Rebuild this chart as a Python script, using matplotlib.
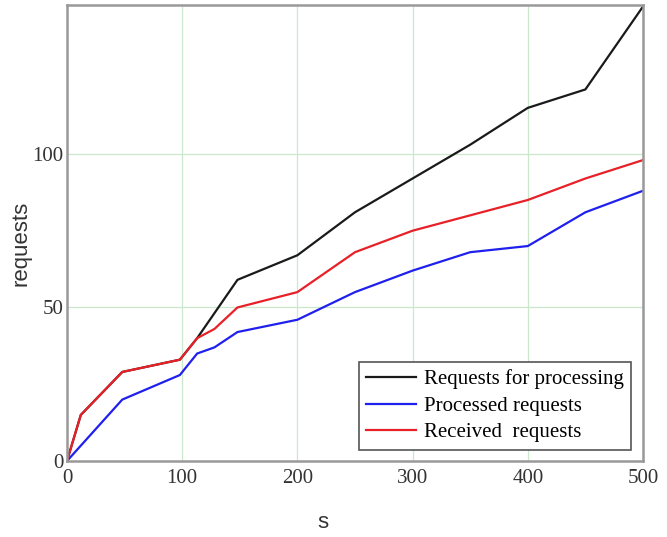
import matplotlib
matplotlib.use("Agg")
import matplotlib.pyplot as plt

# data
s_black = [0, 12, 48, 98, 113, 148, 200, 250, 300, 350, 400, 450, 500]
req_processing = [0, 15, 29, 33, 40, 59, 67, 81, 92, 103, 115, 121, 148]

s_blue = [0, 48, 98, 113, 128, 148, 200, 250, 300, 350, 400, 450, 500]
processed = [0, 20, 28, 35, 37, 42, 46, 55, 62, 68, 70, 81, 88]

s_red = [0, 12, 48, 98, 113, 128, 148, 200, 250, 300, 350, 400, 450, 500]
received = [0, 15, 29, 33, 40, 43, 50, 55, 68, 75, 80, 85, 92, 98]

labels = ["Requests for processing", "Processed requests", "Received  requests"]
xticks = [0, 100, 200, 300, 400, 500]
yticks = [0, 50, 100]

fig = plt.figure(figsize=(6.67, 5.37), dpi=100)
ax = fig.add_axes([0.1004, 0.1415, 0.8636, 0.8492])

ax.plot(s_black, req_processing, color="#1a1a1a", lw=1.6, label=labels[0])
ax.plot(s_blue, processed, color="#2020ee", lw=1.6, label=labels[1])
ax.plot(s_red, received, color="#e82028", lw=1.6, label=labels[2])

ax.set_xlim(0, 500)
ax.set_ylim(0, 148.5)
ax.set_xticks(xticks)
ax.set_yticks(yticks)
ax.grid(True, color="#cce8cc", lw=0.9)
ax.tick_params(length=0, labelsize=15)
ax.tick_params(axis="x", pad=6)
ax.tick_params(axis="y", pad=2.5)
for lab in ax.get_xticklabels() + ax.get_yticklabels():
    lab.set_fontfamily("Liberation Serif")
    lab.set_color("#333333")
for sp in ax.spines.values():
    sp.set_color("#999999")
    sp.set_linewidth(1.8)

ax.set_xlabel("s", family="Liberation Sans", fontsize=16, color="#333333")
ax.set_ylabel("requests", family="Liberation Sans", fontsize=16, color="#333333")
ax.xaxis.set_label_coords(0.444, -0.112)
ax.yaxis.set_label_coords(-0.062, 0.478)

leg = ax.legend(loc="lower right", bbox_to_anchor=(0.98, 0.025),
                prop={"family": "Liberation Serif", "size": 15},
                fancybox=False, edgecolor="#555555", framealpha=1,
                labelspacing=0.33, handlelength=2.4, handletextpad=0.4,
                borderpad=0.35, borderaxespad=0)
leg.get_frame().set_linewidth(1.2)

fig.savefig("out.png", dpi=100)
